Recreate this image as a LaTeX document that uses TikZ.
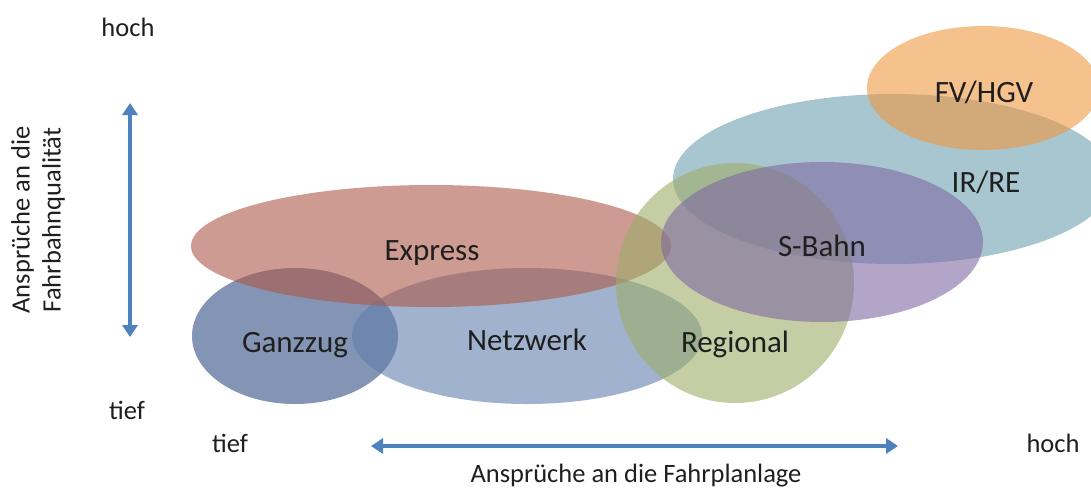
\documentclass[tikz,border=0pt]{standalone}
\usepackage{fontspec}
\setmainfont{Carlito}
\usepackage{tikz}
\usetikzlibrary{arrows.meta}

\begin{document}
\begin{tikzpicture}[x=1pt,y=-1pt,
	blob/.style={fill opacity=0.6},
	lbl/.style={inner sep=0, outer sep=0, black!88, anchor=base, font=\fontsize{31pt}{31pt}\selectfont},
	axtxt/.style={inner sep=0, outer sep=0, black!88, anchor=base, font=\fontsize{26.5pt}{26.5pt}\selectfont},
	axarrow/.style={line width=4pt, custcol_axis, {Triangle[width=15pt,length=12pt]}-{Triangle[width=15pt,length=12pt]}}]
						\definecolor{custcol_express}{RGB}{172, 88, 72}
						\definecolor{custcol_ganzzug}{RGB}{50, 77, 130}
						\definecolor{custcol_netzwerk}{RGB}{97, 127, 172}
						\definecolor{custcol_regional}{RGB}{158, 172, 105}
						\definecolor{custcol_sbahn}{RGB}{127, 105, 162}
						\definecolor{custcol_irre}{RGB}{110, 160, 177}
						\definecolor{custcol_fv}{RGB}{238, 152, 63}
						\definecolor{custcol_axis}{RGB}{79, 129, 189}
						\useasboundingbox (0,0) rectangle (1091,488);
						% ellipses
						\fill [blob, custcol_ganzzug]  (295,336) ellipse (103 and 68);
						\fill [blob, custcol_netzwerk]  (527,336) ellipse (175 and 68);
						\fill [blob, custcol_express]  (431,246) ellipse (240 and 61);
						\fill [blob, custcol_irre]  (893,179) ellipse (220 and 85);
						\fill [blob, custcol_regional]  (735,283) ellipse (119 and 120);
						\fill [blob, custcol_sbahn]  (822,242) ellipse (161 and 80);
						\fill [blob, custcol_fv]  (983,88) ellipse (116 and 62);
						% labels
						\node[lbl] (express) at (432,260) {Express};
						\node[lbl] (ganzzug) at (295,352) {Ganzzug};
						\node[lbl] (netzwerk) at (527,350) {Netzwerk};
						\node[lbl] (regional) at (735,352) {Regional};
						\node[lbl] (sbahn) at (822,256) {S-Bahn};
						\node[lbl] (irre) at (986,192) {IR/RE};
						\node[lbl] (fvhgv) at (984,102) {FV/HGV};
						% axes
						\node[axtxt] (qhoch) at (128,36) {hoch};
						\node[axtxt] (qtief) at (127,419) {tief};
						\node[axtxt] (ptief) at (230,452) {tief};
						\node[axtxt] (phoch) at (1053,452) {hoch};
						\node[axtxt] (plage) at (636,482) {Ansprüche an die Fahrplanlage};
						\node[axtxt, anchor=center, align=center, rotate=90, font=\fontsize{26.5pt}{31pt}\selectfont] (qual) at (38,220) {Ansprüche an die\\Fahrbahnqualität};
						\coordinate (qtop) at (130,103);
						\coordinate (qbot) at (130,337);
						\coordinate (pleft) at (371,446);
						\coordinate (pright) at (898,446);
						\draw [axarrow] (qbot) -- (qtop);
						\draw [axarrow] (pleft) -- (pright);
						\end{tikzpicture}
\end{document}
